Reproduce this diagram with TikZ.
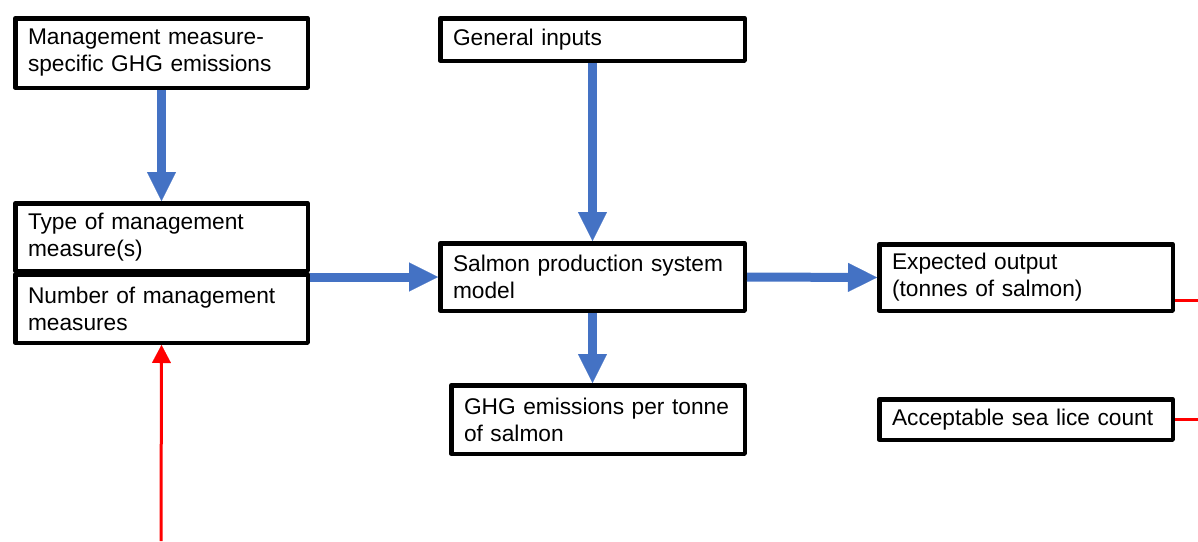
\documentclass[tikz,border=0pt]{standalone}
\usepackage{fontspec}
\setmainfont{Liberation Sans}
\usetikzlibrary{arrows.meta}
\definecolor{arrowblue}{HTML}{4472C4}
\definecolor{linered}{HTML}{FF0000}
\tikzset{
  box/.style={draw=black, line width=4.5pt, line join=round, fill=white, rectangle,
    align=left, inner xsep=12.75pt, inner ysep=2pt, anchor=center},
  bluearrow/.style={draw=arrowblue, line width=9pt,
    -{Triangle[length=29pt,width=29pt,line width=0.1pt]}},
  redarrow/.style={draw=linered, line width=3pt,
    -{Triangle[length=18pt,width=19pt,line width=0.1pt]}},
  redline/.style={draw=linered, line width=3pt}
}
\begin{document}
\begin{tikzpicture}[x=1pt,y=-1pt,font=\fontsize{22.7}{27}\selectfont]
\useasboundingbox (0,0) rectangle (1198,541);
% nodes
\node[box, text width=267pt, minimum height=69.5pt] (A) at (161.5,53)
  {Management measure-\\specific GHG emissions};
\node[box, text width=267pt, minimum height=67.5pt] (B) at (161.5,237)
  {Type of management\\measure(s)};
\node[box, text width=267pt, minimum height=68.5pt] (C) at (161.5,308.5)
  {Number of management\\measures};
\node[box, text width=279pt, minimum height=42.5pt] (G) at (592.5,39.5)
  {General inputs};
\node[box, text width=279pt, minimum height=67.5pt] (S) at (592.5,277)
  {Salmon production system\\model};
\node[box, text width=268pt, minimum height=68.5pt] (E) at (598,419.5)
  {GHG emissions per tonne\\of salmon};
\node[box, text width=268pt, minimum height=66.5pt] (O) at (1026,277.5)
  {Expected output\\(tonnes of salmon)};
\node[box, text width=268pt, minimum height=40.5pt] (L) at (1026,419.5)
  {Acceptable sea lice count};
% coordinates for free ends
\coordinate (redstart) at (161,541);
\coordinate (Oright) at (1198,300);
\coordinate (Lright) at (1198,419.5);
% blue connectors
\draw[bluearrow] (A.south) -- (B.north);
\draw[bluearrow] (G.south) -- (S.north);
\draw[bluearrow] (S.south) -- (S.south |- E.north);
\draw[bluearrow] (B.east |- S.west) -- (S.west);
\draw[bluearrow] (S.east) -- (O.west);
% red connectors
\draw[redarrow] (redstart) -- (C.south);
\draw[redline] (O.east |- Oright) -- (Oright);
\draw[redline] (L.east) -- (Lright);
\end{tikzpicture}
\end{document}
